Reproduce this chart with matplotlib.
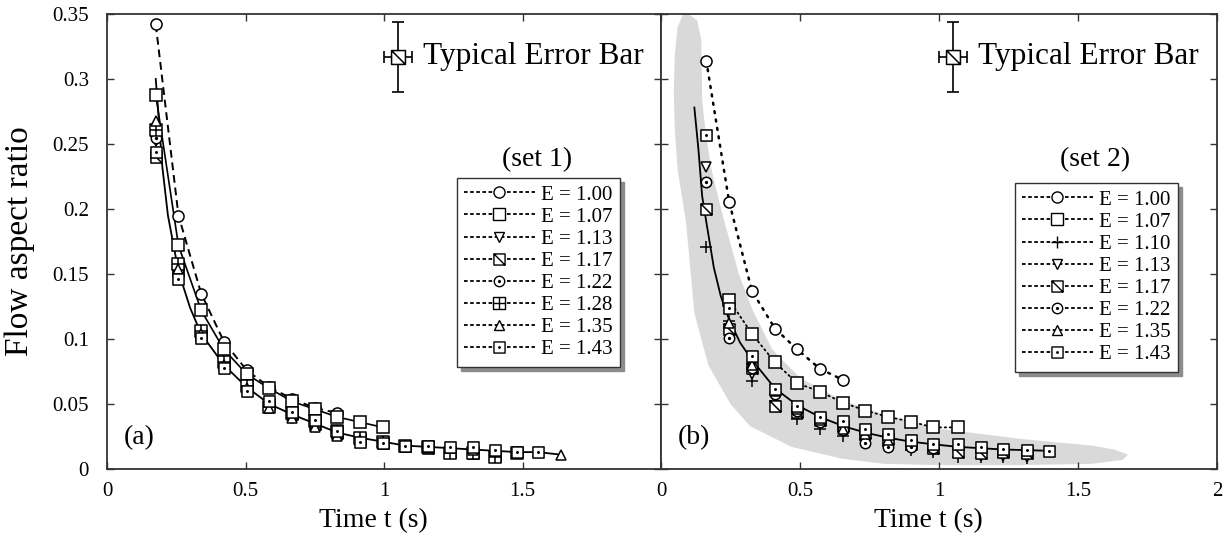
import numpy as np
import matplotlib
matplotlib.use("Agg")
import matplotlib.pyplot as plt
from matplotlib.path import Path
from matplotlib.lines import Line2D

plt.rcParams['font.family'] = ['Liberation Serif', 'DejaVu Serif']

nan = np.nan

# set 1 data (panel a)
t_a = [0.176, 0.258, 0.34, 0.422, 0.504, 0.586, 0.668, 0.75, 0.832, 0.914,
       0.997, 1.075, 1.16, 1.24, 1.32, 1.40, 1.48, 1.555, 1.64]
a_100 = [0.342, 0.195, 0.135, 0.098, 0.076, 0.063, 0.054, 0.047, 0.043]
a_107 = [0.288, 0.172, 0.122, 0.092, 0.073, 0.062, 0.052, 0.046, 0.040, 0.036, 0.032]
a_113 = [0.252, 0.150, 0.104, 0.080, 0.062, 0.049, 0.041, 0.034, 0.027, 0.023, 0.020, 0.017]
a_117 = [0.240, 0.152, 0.103, 0.081, 0.065, 0.050, 0.042, 0.035, 0.028, 0.023, 0.020,
         0.018, 0.016, 0.013, 0.012, 0.010]
a_122 = [0.255, 0.153, 0.105, 0.079, 0.063, 0.051, 0.040, 0.033, 0.027]
a_128 = [0.261, 0.158, 0.106, 0.082, 0.064, 0.048, 0.043, 0.037, 0.029, 0.024, 0.021,
         0.018, 0.017, 0.012, 0.012, 0.009, 0.012]
a_135 = [0.268, 0.154, 0.104, 0.080, 0.062, 0.047, 0.039, 0.032, 0.0255, 0.022, 0.020,
         0.018, 0.017, 0.016, 0.015, 0.014, 0.013, 0.013, 0.0107]
a_143 = [0.244, 0.146, 0.101, 0.078, 0.060, 0.052, 0.044, 0.0375, 0.029, 0.021, 0.0197,
         0.0177, 0.0177, 0.017, 0.017, 0.0146, 0.0133, 0.0133]
fit_a_t = [0.176, 0.2, 0.22, 0.258, 0.3, 0.34, 0.422, 0.504, 0.586, 0.668, 0.75, 0.832,
           0.914, 0.997, 1.075, 1.16, 1.24, 1.32, 1.40, 1.48, 1.555, 1.64]
fit_a_v = [0.300, 0.232, 0.195, 0.152, 0.124, 0.104, 0.080, 0.063, 0.050, 0.042, 0.035,
           0.028, 0.024, 0.021, 0.018, 0.017, 0.016, 0.015, 0.014, 0.013, 0.013, 0.011]

# set 2 data (panel b)
t_b = [0.163, 0.245, 0.327, 0.41, 0.49, 0.572, 0.655, 0.735, 0.818, 0.90, 0.98,
       1.07, 1.15, 1.23, 1.315, 1.394]
b_100 = [0.314, 0.2056, 0.137, 0.108, 0.092, 0.077, 0.0685]
b_107 = [nan, 0.130, 0.104, 0.082, 0.066, 0.0595, 0.051, 0.045, 0.040, 0.0364, 0.032, 0.032]
b_110 = [0.171, 0.114, 0.068, 0.052, 0.0385, 0.031, 0.0256, 0.022, 0.018, 0.015, 0.013,
         0.009, 0.009, 0.009, 0.0085]
b_113 = [0.2325, 0.105, 0.073, 0.055, 0.043, 0.036, 0.030, 0.026, 0.021, 0.017, 0.015,
         0.012, 0.010, 0.010, 0.009]
b_117 = [0.200, 0.108, 0.078, 0.0487, 0.044, 0.038, 0.033, 0.028, 0.023, 0.019, 0.016,
         0.013, 0.012, 0.013, 0.012]
b_122 = [0.221, 0.101, 0.078, 0.058, 0.045, 0.036, 0.030, 0.020, 0.017, 0.017, 0.016]
b_135 = [nan, 0.112, 0.080, 0.060, 0.046, 0.038, 0.031, 0.027, 0.022]
b_143 = [0.257, 0.124, 0.087, 0.0615, 0.0487, 0.040, 0.037, 0.031, 0.027, 0.022, 0.019,
         0.019, 0.017, 0.0154, 0.0146, 0.014]
fit_b_t = [0.12, 0.135, 0.148, 0.163, 0.19, 0.215, 0.245, 0.285, 0.327, 0.41, 0.49, 0.572,
           0.655, 0.735, 0.818, 0.90, 0.98, 1.07, 1.15, 1.23, 1.315, 1.394]
fit_b_v = [0.278, 0.245, 0.21, 0.19, 0.155, 0.133, 0.115, 0.097, 0.084, 0.062, 0.049, 0.040,
           0.033, 0.028, 0.024, 0.021, 0.019, 0.017, 0.016, 0.015, 0.0145, 0.014]

# gray band outline in panel b (clockwise from the top)
band_t = [0.10, 0.13, 0.145, 0.148, 0.16, 0.18, 0.21, 0.24, 0.28, 0.33, 0.40, 0.50, 0.65,
          0.80, 1.0, 1.3, 1.45, 1.55, 1.63, 1.68, 1.66, 1.55, 1.3, 1.0, 0.8, 0.65, 0.47,
          0.32, 0.25, 0.17, 0.12, 0.09, 0.06, 0.05, 0.046, 0.05, 0.06, 0.08]
band_v = [0.350, 0.345, 0.33, 0.284, 0.26, 0.232, 0.205, 0.181, 0.15, 0.122, 0.092, 0.070,
          0.053, 0.042, 0.031, 0.023, 0.020, 0.018, 0.015, 0.011, 0.007, 0.004, 0.003,
          0.003, 0.004, 0.008, 0.017, 0.033, 0.05, 0.08, 0.12, 0.19, 0.23, 0.26, 0.29,
          0.32, 0.34, 0.35]

err_t, err_v, err_dt, err_dv = 1.05, 0.317, 0.05, 0.027

labels_1 = ['E = 1.00', 'E = 1.07', 'E = 1.13', 'E = 1.17', 'E = 1.22', 'E = 1.28', 'E = 1.35', 'E = 1.43']
labels_2 = ['E = 1.00', 'E = 1.07', 'E = 1.10', 'E = 1.13', 'E = 1.17', 'E = 1.22', 'E = 1.35', 'E = 1.43']

# marker shapes
M, L, C = Path.MOVETO, Path.LINETO, Path.CLOSEPOLY
sq_v = [(-1, -1), (1, -1), (1, 1), (-1, 1), (-1, -1)]
sq_c = [M, L, L, L, C]
sq_slash = Path(sq_v + [(-1, 1), (1, -1)], sq_c + [M, L])
sq_plus = Path(sq_v + [(0, -1), (0, 1), (-1, 0), (1, 0)], sq_c + [M, L, M, L])
sq_dot = Path.make_compound_path(Path(sq_v, sq_c), Path.circle((0, 0), 0.13))
circ_dot = Path.make_compound_path(Path.unit_circle(), Path.circle((0, 0), 0.17))

mk = {'E = 1.00': ('o', 8), 'E = 1.07': ('s', 8), 'E = 1.10': ('+', 9),
      'E = 1.13': ('v', 7.5), 'E = 1.17': (sq_slash, 8), 'E = 1.22': (circ_dot, 7.5),
      'E = 1.28': (sq_plus, 8), 'E = 1.35': ('^', 7.5), 'E = 1.43': (sq_dot, 8)}

W, H = 1232, 543
fig = plt.figure(figsize=(W / 100, H / 100), dpi=100)
ax1 = fig.add_axes([107 / W, 1 - 469 / H, 554 / W, 455 / H])
ax2 = fig.add_axes([661 / W, 1 - 469 / H, 556 / W, 455 / H])


def draw_series(ax, t, vals, label):
    m, s = mk[label]
    ax.plot(t[:len(vals)], vals, ls='none', marker=m, ms=s, mfc='white', mec='k',
            mew=1.1, color='k', zorder=4)


# panel a
ax1.plot(fit_a_t, fit_a_v, color='k', lw=1.3, zorder=2)
ax1.plot(t_a[:len(a_100)], a_100, color='k', lw=1.4, ls=(0, (4, 2.5)), zorder=2)
ax1.plot(t_a[:len(a_107)], a_107, color='k', lw=1.2, zorder=2)
for lab, vals in zip(labels_1, [a_100, a_107, a_113, a_117, a_122, a_128, a_135, a_143]):
    draw_series(ax1, t_a, vals, lab)

# panel b
ax2.fill(band_t, band_v, color='#d9d9d9', lw=0, zorder=0)
ax2.plot(fit_b_t, fit_b_v, color='k', lw=1.3, zorder=2)
ax2.plot(t_b[:len(b_100)], b_100, color='k', lw=1.8, ls=(0, (0.8, 2.6)),
         dash_capstyle='round', zorder=2)
ax2.plot(t_b[:len(b_107)], b_107, color='k', lw=1.3, ls=(0, (0.8, 2.0)),
         dash_capstyle='round', zorder=2)
for lab, vals in zip(labels_2, [b_100, b_107, b_110, b_113, b_117, b_122, b_135, b_143]):
    draw_series(ax2, t_b, vals, lab)

panels = [(ax1, labels_1, '(a)', '(set 1)', 0.926, 0.640),
          (ax2, labels_2, '(b)', '(set 2)', 0.930, 0.629)]
for ax, labs, pl, sett, lx, ly in panels:
    ax.set_xlim(0, 2)
    ax.set_ylim(0, 0.35)
    ax.set_xticks([0, 0.5, 1, 1.5, 2])
    ax.set_xticklabels(['0', '0.5', '1', '1.5', '2'])
    ax.set_yticks(np.arange(0, 0.351, 0.05))
    ax.tick_params(direction='in', length=5, width=1, top=True, right=True,
                   labelsize=15, color='#333333')
    ax.tick_params(axis='x', pad=9)
    ax.tick_params(axis='y', pad=13)
    for sp in ax.spines.values():
        sp.set_color('#333333')
        sp.set_linewidth(1.3)
    ax.set_xlabel('Time t (s)', fontsize=20)
    ax.xaxis.set_label_coords(0.48, -0.085)
    ax.text(0.03, 0.07, pl, transform=ax.transAxes, fontsize=20, va='center', ha='left')
    ax.text(lx - 0.15, 0.679, sett, transform=ax.transAxes, fontsize=20,
            va='center', ha='center')
    # typical error bar
    ax.errorbar([err_t], [err_v], xerr=[err_dt], yerr=[err_dv], fmt='none', ecolor='k',
                elinewidth=1.2, capsize=4, capthick=1.2, zorder=5)
    ax.plot([err_t], [err_v], ls='none', marker=sq_slash, ms=10, mfc='white', mec='k',
            mew=1.1, zorder=6)
    ax.text(err_t + 0.09, err_v, 'Typical Error Bar', fontsize=22.5, va='center', ha='left')
    handles = [Line2D([0], [0], color='k', lw=1.3, ls=(0, (2, 1.4)), marker=mk[l][0],
                      ms=mk[l][1], mfc='white', mec='k', mew=1.0) for l in labs]
    leg = ax.legend(handles, labs, loc='upper right', bbox_to_anchor=(lx, ly),
                    borderaxespad=0, fontsize=15, handlelength=3.4, handletextpad=0.3,
                    labelspacing=0.12, borderpad=0.35, fancybox=False, framealpha=1,
                    edgecolor='#333333',
                    shadow={'ox': 3, 'oy': -3, 'facecolor': '0.55', 'edgecolor': '0.55',
                            'alpha': 1.0})
    leg.get_frame().set_linewidth(1.0)

ax1.set_xticks([0, 0.5, 1, 1.5])
ax1.set_xticklabels(['0', '0.5', '1', '1.5'])
ax1.set_yticklabels(['0', '0.05', '0.1', '0.15', '0.2', '0.25', '0.3', '0.35'])
ax2.tick_params(axis='y', labelleft=False)
ax1.set_ylabel('Flow aspect ratio', fontsize=24)
ax1.yaxis.set_label_coords(-0.13, 0.5)

fig.savefig('out.png', dpi=100)
